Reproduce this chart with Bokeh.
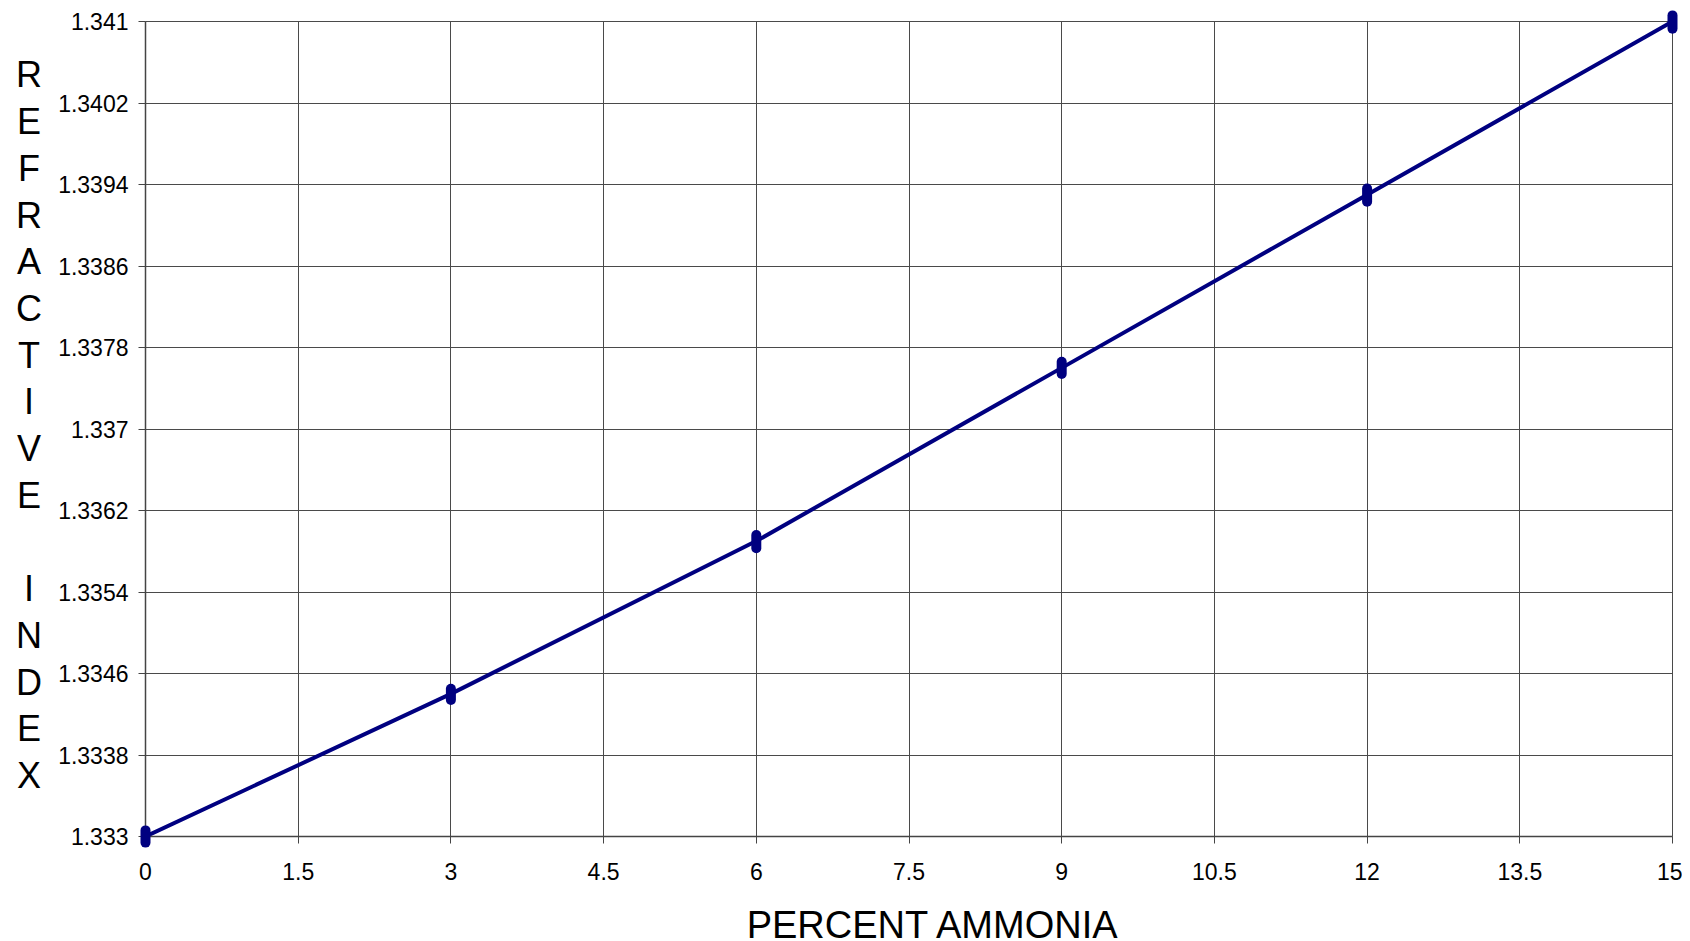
from bokeh.plotting import figure
from bokeh.models import Range1d, FixedTicker
from bokeh.core.properties import value
from bokeh.embed import file_html
from bokeh.resources import INLINE

# ---- data ----
percent = [0, 3, 6, 9, 12, 15]
ri_mean = [1.3330, 1.33440, 1.33590, 1.33760, 1.33930, 1.34100]
ri_high = [1.33306, 1.33445, 1.33596, 1.33766, 1.33936, 1.34106]
ri_low = [1.33294, 1.33434, 1.33583, 1.33754, 1.33923, 1.34093]

x_ticks = [0, 1.5, 3, 4.5, 6, 7.5, 9, 10.5, 12, 13.5, 15]
x_labels = ["0", "1.5", "3", "4.5", "6", "7.5", "9", "10.5", "12", "13.5", "15"]
y_ticks = [1.333, 1.3338, 1.3346, 1.3354, 1.3362, 1.337, 1.3378, 1.3386, 1.3394, 1.3402, 1.341]
y_labels = ["1.333", "1.3338", "1.3346", "1.3354", "1.3362", "1.337", "1.3378",
            "1.3386", "1.3394", "1.3402", "1.341"]

x_title = "PERCENT AMMONIA"
y_title = "REFRACTIVE INDEX"

FONT = "Liberation Sans"
NAVY = "#000080"
GRID = "#4a4a4a"

X0, X1 = 0, 15
Y0, Y1 = 1.333, 1.341
FW, FH = 1527, 815

p = figure(frame_width=FW, frame_height=FH,
           min_border_left=145, min_border_right=10,
           min_border_top=21, min_border_bottom=104,
           x_range=Range1d(X0, X1), y_range=Range1d(Y0, Y1),
           output_backend="svg", toolbar_location=None,
           background_fill_color="white", border_fill_color="white")

p.outline_line_color = GRID
p.outline_line_width = 1

for ax, ticks, labels in ((p.xaxis, x_ticks, x_labels), (p.yaxis, y_ticks, y_labels)):
    ax.ticker = FixedTicker(ticks=ticks)
    ax.major_label_overrides = dict(zip(ticks, labels))
    ax.major_label_text_font = FONT
    ax.major_label_text_font_size = "23px"
    ax.major_label_text_color = "black"
    ax.axis_line_color = "#444444"
    ax.axis_line_width = 1.5
    ax.major_tick_line_color = "#444444"
    ax.major_tick_out = 7
    ax.major_tick_in = 0
    ax.minor_tick_line_color = None

p.xaxis.major_label_standoff = 19
p.yaxis.major_label_standoff = 10

p.xgrid.ticker = FixedTicker(ticks=x_ticks)
p.ygrid.ticker = FixedTicker(ticks=y_ticks)
p.grid.grid_line_color = GRID
p.grid.grid_line_width = 1

# line through the means
p.line(percent, ri_mean, line_color=NAVY, line_width=4)
# paired readings drawn as capsules
p.segment(x0=percent, y0=ri_low, x1=percent, y1=ri_high,
          line_color=NAVY, line_width=10, line_cap="round", level="overlay")

# axis titles (drawn as unclipped overlay text)
px_x = (X1 - X0) / FW
px_y = (Y1 - Y0) / FH

p.text(x=[X0 + 788 * px_x], y=[Y0 - 88 * px_y], text=[x_title],
       text_font=value(FONT), text_font_size="38px", text_color="black",
       text_align="center", text_baseline="middle", level="overlay")

letter_step = 46.7
top_px = 53.4  # first letter centre below frame top
lx, ly, lt = [], [], []
for i, ch in enumerate(y_title):
    if ch == " ":
        continue
    lx.append(X0 - 116.5 * px_x)
    ly.append(Y1 - (top_px + i * letter_step) * px_y)
    lt.append(ch)
p.text(x=lx, y=ly, text=lt, text_font=value(FONT), text_font_size="36px",
       text_color="black", text_align="center", text_baseline="middle",
       level="overlay")

open("out.html", "w").write(file_html(p, INLINE))
